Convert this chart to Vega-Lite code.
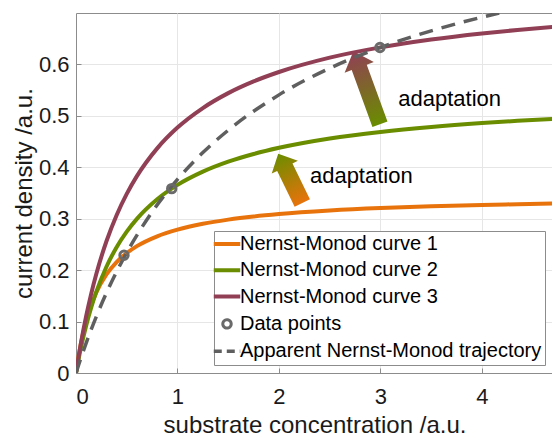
{
  "$schema": "https://vega.github.io/schema/vega-lite/v6.json",
  "width": 477,
  "height": 360,
  "autosize": "none",
  "padding": {"left": 76, "top": 13, "right": 0, "bottom": 64},
  "datasets": {
    "curves": [
      {"x": 0, "Nernst-Monod curve 1": 0, "Nernst-Monod curve 2": 0, "Nernst-Monod curve 3": 0},
      {"x": 0.025, "Nernst-Monod curve 1": 0.0324, "Nernst-Monod curve 2": 0.0264, "Nernst-Monod curve 3": 0.0310},
      {"x": 0.05, "Nernst-Monod curve 1": 0.0592, "Nernst-Monod curve 2": 0.0503, "Nernst-Monod curve 3": 0.0595},
      {"x": 0.1, "Nernst-Monod curve 1": 0.1011, "Nernst-Monod curve 2": 0.0921, "Nernst-Monod curve 3": 0.1103},
      {"x": 0.15, "Nernst-Monod curve 1": 0.1324, "Nernst-Monod curve 2": 0.1274, "Nernst-Monod curve 3": 0.1542},
      {"x": 0.2, "Nernst-Monod curve 1": 0.1565, "Nernst-Monod curve 2": 0.1576, "Nernst-Monod curve 3": 0.1925},
      {"x": 0.3, "Nernst-Monod curve 1": 0.1915, "Nernst-Monod curve 2": 0.2066, "Nernst-Monod curve 3": 0.2562},
      {"x": 0.4, "Nernst-Monod curve 1": 0.2157, "Nernst-Monod curve 2": 0.2446, "Nernst-Monod curve 3": 0.3069},
      {"x": 0.5, "Nernst-Monod curve 1": 0.2333, "Nernst-Monod curve 2": 0.2749, "Nernst-Monod curve 3": 0.3484},
      {"x": 0.6, "Nernst-Monod curve 1": 0.2467, "Nernst-Monod curve 2": 0.2997, "Nernst-Monod curve 3": 0.3828},
      {"x": 0.8, "Nernst-Monod curve 1": 0.2658, "Nernst-Monod curve 2": 0.3378, "Nernst-Monod curve 3": 0.4368},
      {"x": 1.0, "Nernst-Monod curve 1": 0.2788, "Nernst-Monod curve 2": 0.3657, "Nernst-Monod curve 3": 0.4772},
      {"x": 1.25, "Nernst-Monod curve 1": 0.2902, "Nernst-Monod curve 2": 0.3915, "Nernst-Monod curve 3": 0.5152},
      {"x": 1.5, "Nernst-Monod curve 1": 0.2982, "Nernst-Monod curve 2": 0.4109, "Nernst-Monod curve 3": 0.5442},
      {"x": 1.75, "Nernst-Monod curve 1": 0.3043, "Nernst-Monod curve 2": 0.4259, "Nernst-Monod curve 3": 0.5670},
      {"x": 2.0, "Nernst-Monod curve 1": 0.3090, "Nernst-Monod curve 2": 0.4379, "Nernst-Monod curve 3": 0.5853},
      {"x": 2.5, "Nernst-Monod curve 1": 0.3158, "Nernst-Monod curve 2": 0.4560, "Nernst-Monod curve 3": 0.6132},
      {"x": 3.0, "Nernst-Monod curve 1": 0.3206, "Nernst-Monod curve 2": 0.4688, "Nernst-Monod curve 3": 0.6332},
      {"x": 3.5, "Nernst-Monod curve 1": 0.3240, "Nernst-Monod curve 2": 0.4785, "Nernst-Monod curve 3": 0.6484},
      {"x": 4.0, "Nernst-Monod curve 1": 0.3267, "Nernst-Monod curve 2": 0.4860, "Nernst-Monod curve 3": 0.6602},
      {"x": 4.35, "Nernst-Monod curve 1": 0.3282, "Nernst-Monod curve 2": 0.4903, "Nernst-Monod curve 3": 0.6671},
      {"x": 4.7, "Nernst-Monod curve 1": 0.3295, "Nernst-Monod curve 2": 0.4940, "Nernst-Monod curve 3": 0.6730}
    ],
    "trajectory": [
      {"x": 0, "y": 0},
      {"x": 0.025, "y": 0.0152},
      {"x": 0.05, "y": 0.0300},
      {"x": 0.1, "y": 0.0582},
      {"x": 0.2, "y": 0.1097},
      {"x": 0.3, "y": 0.1557},
      {"x": 0.5, "y": 0.2341},
      {"x": 0.75, "y": 0.3130},
      {"x": 1.0, "y": 0.3765},
      {"x": 1.25, "y": 0.4286},
      {"x": 1.5, "y": 0.4721},
      {"x": 2.0, "y": 0.5408},
      {"x": 2.5, "y": 0.5926},
      {"x": 3.0, "y": 0.6330},
      {"x": 3.5, "y": 0.6653},
      {"x": 4.0, "y": 0.6919},
      {"x": 4.17, "y": 0.6999}
    ],
    "points": [
      {"x": 0.473, "y": 0.229},
      {"x": 0.943, "y": 0.3585},
      {"x": 2.995, "y": 0.633}
    ],
    "arrow1": [{"x": 2.111, "y": 0.3785}],
    "arrow2": [{"x": 2.864, "y": 0.5545}],
    "labels": [
      {"x": 2.305, "y": 0.370, "text": "adaptation"},
      {"x": 3.175, "y": 0.520, "text": "adaptation"}
    ]
  },
  "layer": [
    {
      "data": {"name": "curves"},
      "transform": [{"fold": ["Nernst-Monod curve 1", "Nernst-Monod curve 2", "Nernst-Monod curve 3"], "as": ["series", "y"]}],
      "mark": {"type": "line", "strokeWidth": 4, "interpolate": "monotone", "clip": true},
      "encoding": {
        "x": {"field": "x", "type": "quantitative", "scale": {"domain": [0, 4.7], "nice": false},
          "axis": {"title": "substrate concentration /a.u.", "values": [0, 1, 2, 3, 4], "format": "d", "tickSize": -5, "labelPadding": 18, "titlePadding": 6}},
        "y": {"field": "y", "type": "quantitative", "scale": {"domain": [0, 0.7], "nice": false},
          "axis": {"title": "current density /a.u.", "values": [0, 0.1, 0.2, 0.3, 0.4, 0.5, 0.6], "format": "~g", "tickSize": -5, "labelPadding": 12, "titlePadding": 2}},
        "color": {
          "field": "series", "type": "nominal",
          "scale": {
            "domain": ["Nernst-Monod curve 1", "Nernst-Monod curve 2", "Nernst-Monod curve 3", "Data points", "Apparent Nernst-Monod trajectory"],
            "range": ["#E8730C", "#6A8D00", "#913F55", "#6A6A6A", "#5F5F5F"]
          },
          "legend": {
            "title": null,
            "orient": "bottom-right",
            "offset": 8,
            "padding": 3,
            "fillColor": "white",
            "strokeColor": "#8c8c8c",
            "symbolType": "stroke",
            "symbolSize": 700,
            "labelFontSize": 20,
            "labelColor": "#000000",
            "labelOffset": 3,
            "rowPadding": 6.3,
            "labelLimit": 400,
            "encode": {
              "symbols": {
                "update": {
                  "shape": {"signal": "datum.value === 'Data points' ? 'circle' : 'stroke'"},
                  "size": {"signal": "datum.value === 'Data points' ? 70 : 700"},
                  "stroke": {"signal": "scale('color', datum.value)"},
                  "fill": {"value": "transparent"},
                  "strokeWidth": {"signal": "datum.value === 'Data points' ? 3 : (datum.value === 'Apparent Nernst-Monod trajectory' ? 3.5 : 4)"},
                  "strokeDash": {"signal": "datum.value === 'Apparent Nernst-Monod trajectory' ? [8, 5] : [1, 0]"},
                  "opacity": {"value": 1}
                }
              }
            }
          }
        }
      }
    },
    {
      "data": {"name": "arrow1"},
      "mark": {
        "type": "point",
        "shape": "M0,-1L0.53,-0.45L0.31,-0.45L0.31,1L-0.31,1L-0.31,-0.45L-0.53,-0.45Z",
        "size": 3014,
        "angle": -26,
        "filled": true,
        "opacity": 1,
        "strokeWidth": 0,
        "fill": {"gradient": "linear", "x1": 0, "y1": 1, "x2": 0, "y2": 0,
          "stops": [{"offset": 0, "color": "#E8730C"}, {"offset": 1, "color": "#6A8D00"}]}
      },
      "encoding": {
        "x": {"field": "x", "type": "quantitative"},
        "y": {"field": "y", "type": "quantitative"}
      }
    },
    {
      "data": {"name": "arrow2"},
      "mark": {
        "type": "point",
        "shape": "M0,-1L0.4,-0.56L0.206,-0.56L0.206,1L-0.206,1L-0.206,-0.56L-0.4,-0.56Z",
        "size": 6037,
        "angle": -20,
        "filled": true,
        "opacity": 1,
        "strokeWidth": 0,
        "fill": {"gradient": "linear", "x1": 0, "y1": 1, "x2": 0, "y2": 0,
          "stops": [{"offset": 0, "color": "#6A8D00"}, {"offset": 1, "color": "#913F55"}]}
      },
      "encoding": {
        "x": {"field": "x", "type": "quantitative"},
        "y": {"field": "y", "type": "quantitative"}
      }
    },
    {
      "data": {"name": "trajectory"},
      "mark": {"type": "line", "strokeWidth": 3.5, "strokeDash": [14, 9], "interpolate": "monotone", "clip": true},
      "encoding": {
        "x": {"field": "x", "type": "quantitative"},
        "y": {"field": "y", "type": "quantitative"},
        "color": {"datum": "Apparent Nernst-Monod trajectory"}
      }
    },
    {
      "data": {"name": "points"},
      "mark": {"type": "point", "shape": "circle", "filled": false, "size": 70, "strokeWidth": 3, "opacity": 1},
      "encoding": {
        "x": {"field": "x", "type": "quantitative"},
        "y": {"field": "y", "type": "quantitative"},
        "color": {"datum": "Data points"}
      }
    },
    {
      "data": {"name": "labels"},
      "mark": {"type": "text", "fontSize": 22, "align": "left", "baseline": "alphabetic", "color": "#000000"},
      "encoding": {
        "x": {"field": "x", "type": "quantitative"},
        "y": {"field": "y", "type": "quantitative"},
        "text": {"field": "text"}
      }
    }
  ],
  "config": {
    "font": "Liberation Sans",
    "view": {"stroke": "#8c8c8c", "strokeWidth": 1},
    "axis": {
      "domainColor": "#8c8c8c",
      "tickColor": "#8c8c8c",
      "gridColor": "#e6e6e6",
      "labelColor": "#1a1a1a",
      "titleColor": "#1a1a1a",
      "labelFontSize": 22,
      "titleFontSize": 24,
      "titleFontWeight": "normal",
      "labelFont": "Liberation Sans",
      "titleFont": "Liberation Sans"
    },
    "legend": {"labelFont": "Liberation Sans"}
  }
}
